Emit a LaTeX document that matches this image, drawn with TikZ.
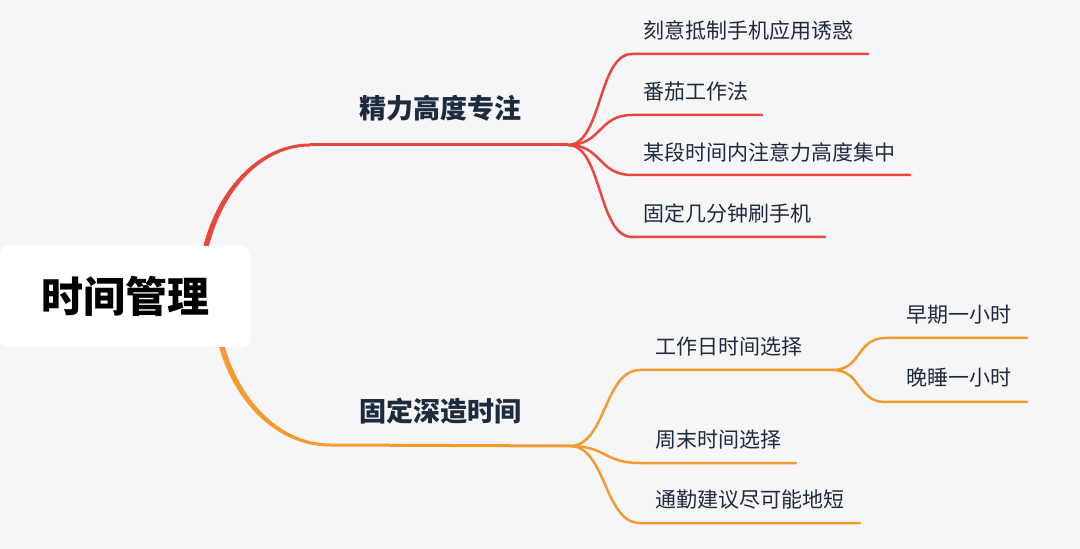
\documentclass[tikz,border=0pt]{standalone}
\usepackage{fontspec}
\usetikzlibrary{calc}
\setmainfont{Noto Sans CJK SC}
\definecolor{cred}{HTML}{E8473D}
\definecolor{corange}{HTML}{F59A2F}
\definecolor{ctext}{HTML}{1E2B3C}
\definecolor{cbg}{HTML}{F6F6F8}
\begin{document}
\begin{tikzpicture}[x=0.5pt,y=-0.5pt,
  redl/.style={draw=cred,line width=1.25pt,line cap=round},
  orgl/.style={draw=corange,line width=1.25pt,line cap=round},
  rootbox/.style={fill=white,rounded corners=4pt,minimum width=125pt,minimum height=50.5pt,inner sep=0pt,font=\fontsize{21}{21}\selectfont\bfseries,text=black},
  mainlabel/.style={inner sep=0pt,font=\fontsize{13.5}{14}\selectfont\bfseries,text=ctext},
  leaflabel/.style={inner sep=0pt,anchor=west,font=\fontsize{10.5}{11}\selectfont,text=ctext}]
\fill[cbg] (0,0) rectangle (1080,549);
\useasboundingbox (0,0) rectangle (1080,549);
% coordinates
\coordinate (rs) at (200,296);
\coordinate (r0) at (310,145);
\coordinate (rf) at (568,145);
\coordinate (os) at (215,296);
\coordinate (o0) at (330,445);
\coordinate (of) at (570,446);
\coordinate (a1) at (632,54);  \coordinate (a1e) at (868,54);
\coordinate (a2) at (632,115); \coordinate (a2e) at (762,115);
\coordinate (a3) at (632,175); \coordinate (a3e) at (910,175);
\coordinate (a4) at (632,237); \coordinate (a4e) at (825,237);
\coordinate (b1) at (640,370); \coordinate (b1f) at (833,370);
\coordinate (c1) at (885,338); \coordinate (c1e) at (1027,338);
\coordinate (c2) at (885,402); \coordinate (c2e) at (1027,402);
\coordinate (b2) at (640,463); \coordinate (b2e) at (796,463);
\coordinate (b3) at (640,523); \coordinate (b3e) at (860,523);
% main tapered curves
\fill[cred] ($(rs)+(-2.8,0)$) .. controls (197.2,211.5) and (248,143.5) .. ($(r0)+(0,-1.5)$)
  -- ($(r0)+(0,1.5)$) .. controls (250,146.5) and (202.8,214.5) .. ($(rs)+(2.8,0)$) -- cycle;
\draw[redl,line width=1.5pt,line cap=butt] (r0) -- (rf);
\fill[corange] ($(os)+(-2.8,0)$) .. controls (212.2,380.5) and (266,446.5) .. ($(o0)+(0,1.5)$)
  -- ($(o0)+(0,-1.5)$) .. controls (268,443.5) and (217.8,375.5) .. ($(os)+(2.8,0)$) -- cycle;
\draw[orgl,line width=1.5pt,line cap=butt] (o0) -- (of);
% red children
\foreach \c/\e in {a1/a1e,a2/a2e,a3/a3e,a4/a4e}{
  \draw[redl] (rf) .. controls ($(rf)+(34,0)$) and ($(\c)+(-34,0)$) .. (\c) -- (\e);
}
% orange children
\foreach \c/\e in {b1/b1f,b2/b2e,b3/b3e}{
  \draw[orgl] (of) .. controls ($(of)+(36,0)$) and ($(\c)+(-36,0)$) .. (\c) -- (\e);
}
\foreach \c/\e in {c1/c1e,c2/c2e}{
  \draw[orgl] (b1f) .. controls ($(b1f)+(28,0)$) and ($(\c)+(-28,0)$) .. (\c) -- (\e);
}
% nodes
\node[rootbox] (root) at (125,296.5) {时间管理};
\node[mainlabel] (m1) at (440,108) {精力高度专注};
\node[mainlabel] (m2) at (440,411) {固定深造时间};
\node[leaflabel] (t1) at (643,31) {刻意抵制手机应用诱惑};
\node[leaflabel] (t2) at (643,92) {番茄工作法};
\node[leaflabel] (t3) at (643,152) {某段时间内注意力高度集中};
\node[leaflabel] (t4) at (643,213) {固定几分钟刷手机};
\node[leaflabel] (u1) at (655,347) {工作日时间选择};
\node[leaflabel] (v1) at (906,315) {早期一小时};
\node[leaflabel] (v2) at (906,378) {晚睡一小时};
\node[leaflabel] (u2) at (655,440) {周末时间选择};
\node[leaflabel] (u3) at (655,500) {通勤建议尽可能地短};
\end{tikzpicture}
\end{document}
